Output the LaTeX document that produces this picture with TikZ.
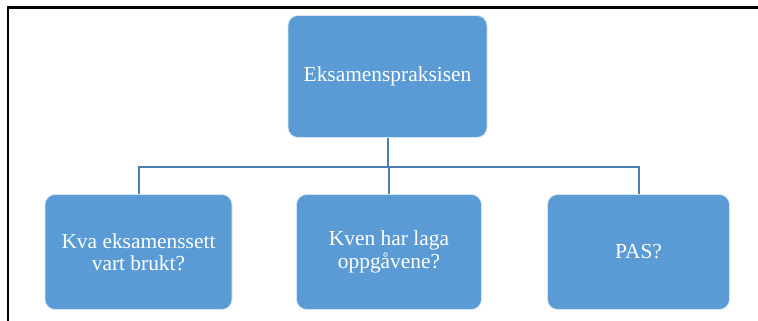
\documentclass[tikz,border=0pt]{standalone}
\usepackage{fontspec}
\setmainfont{Liberation Serif}
\definecolor{boxblue}{HTML}{5B9BD5}
\definecolor{linkblue}{HTML}{4A7EB0}
\begin{document}
\begin{tikzpicture}[x=1pt,y=-1pt,
  box/.style={rectangle, rounded corners=10pt, fill=boxblue, draw=white!75!boxblue,
    line width=0.8pt, text=white, align=center,
    font=\fontsize{21.4}{22.5}\selectfont, inner sep=0pt},
  conn/.style={draw=linkblue, line width=2pt}]
  \useasboundingbox (0,0) rectangle (758,321);
  % page frame
  \draw[line width=2.2pt] (8,330) -- (8,7.5) -- (770,7.5);
  % boxes
  \node[box, minimum width=199pt, minimum height=122pt] (top) at (387.5,76.5) {Eksamenspraksisen};
  \node[box, minimum width=187pt, minimum height=115pt] (kva) at (138.5,252) {Kva eksamenssett\\vart brukt?};
  \node[box, minimum width=185pt, minimum height=115pt] (kven) at (389,252) {Kven har laga\\oppgåvene?};
  \node[box, minimum width=182pt, minimum height=115pt] (pas) at (638.5,252) {PAS?};
  % tree connectors
  \coordinate (bus) at (387.5,167);
  \draw[conn] (top.south) -- (bus);
  \draw[conn] (bus) -| (kva.north);
  \draw[conn] (bus) -| (pas.north);
  \draw[conn] (bus -| kven.north) -- (kven.north);
\end{tikzpicture}
\end{document}
